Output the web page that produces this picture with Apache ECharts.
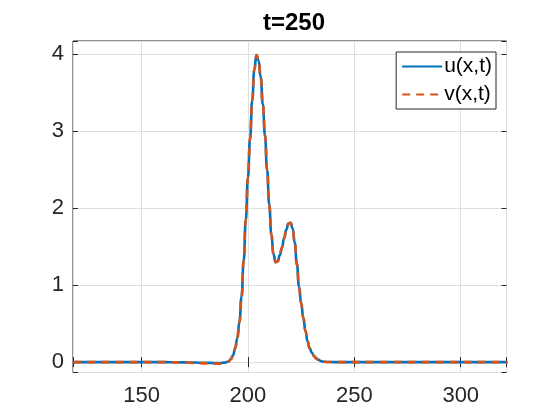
<!DOCTYPE html>
<html>
<head>
<meta charset="utf-8">
<script src="https://cdn.jsdelivr.net/npm/echarts@6/dist/echarts.min.js"></script>
<style>
html,body{margin:0;padding:0;background:#fff;}
#chart{width:560px;height:420px;}
</style>
</head>
<body>
<div id="chart"></div>
<script>
// x positions
const xValues = [118, 130, 140, 150, 160, 170, 175, 180, 184, 187, 189, 190, 191, 192, 193, 194, 195, 196, 197, 198, 199,
    200, 201, 202, 203, 204, 205, 206, 207, 208, 209, 210, 211, 212, 213, 214, 215, 216, 217, 218, 219, 220,
    221, 222, 223, 224, 225, 226, 227, 228, 229, 230, 231, 232, 233, 234, 235, 236, 238, 240, 250, 260, 280, 300, 322];
// u(x,t)
const uValues = [0, 0, 0, 0, 0, -0.004, -0.006, -0.009, -0.011, -0.011, -0.007, 0, 0.01, 0.04, 0.09, 0.18, 0.31, 0.52, 0.85, 1.32, 1.85,
    2.4, 2.9, 3.4, 3.8, 3.99, 3.92, 3.7, 3.35, 2.95, 2.5, 2.05, 1.66, 1.40, 1.30, 1.31, 1.39, 1.49, 1.61, 1.72, 1.80, 1.81,
    1.74, 1.55, 1.27, 0.98, 0.77, 0.58, 0.41, 0.27, 0.18, 0.125, 0.08, 0.05, 0.032, 0.018, 0.008, 0.004, 0.001, 0, 0, 0, 0, 0, 0];
// v(x,t)
const vValues = [0, 0, 0, 0, 0, -0.006, -0.01, -0.016, -0.02, -0.02, -0.012, 0, 0.01, 0.04, 0.09, 0.18, 0.31, 0.52, 0.85, 1.32, 1.85,
    2.4, 2.9, 3.4, 3.8, 3.99, 3.92, 3.7, 3.35, 2.95, 2.5, 2.05, 1.66, 1.40, 1.30, 1.31, 1.39, 1.49, 1.61, 1.72, 1.80, 1.81,
    1.74, 1.55, 1.27, 0.98, 0.77, 0.58, 0.41, 0.27, 0.18, 0.125, 0.08, 0.05, 0.032, 0.018, 0.008, 0.004, 0.001, 0, 0, 0, 0, 0, 0];
const seriesNames = ['u(x,t)', 'v(x,t)'];
const xTicks = [150, 200, 250, 300];
const yTicks = [0, 1, 2, 3, 4];

const axisColor = '#262626';
const font = 'Liberation Sans, Arial, sans-serif';

let chart = echarts.init(document.getElementById('chart'));

function pairs(ys) {
    return xValues.map((x, i) => [x, ys[i]]);
}

function xAxisOpt(pos, showLabel) {
    return {
        type: 'value', position: pos, min: 117.8, max: 321.5,
        minInterval: 50, maxInterval: 50,
        axisLine: {show: false},
        axisTick: {show: true, inside: true, length: 5, lineStyle: {color: axisColor}},
        axisLabel: {
            show: showLabel, color: axisColor, fontSize: 22, fontFamily: font, margin: 12,
            formatter: v => xTicks.indexOf(v) >= 0 ? String(v) : ''
        },
        splitLine: {show: showLabel, lineStyle: {color: '#dfdfdf', width: 1}}
    };
}

function yAxisOpt(pos, showLabel) {
    return {
        type: 'value', position: pos, min: -0.135, max: 4.173,
        minInterval: 1, maxInterval: 1,
        axisLine: {show: false},
        axisTick: {show: true, inside: true, length: 5, lineStyle: {color: axisColor}},
        axisLabel: {
            show: showLabel, color: axisColor, fontSize: 22, fontFamily: font, margin: 9,
            formatter: v => yTicks.indexOf(v) >= 0 ? String(v) : ''
        },
        splitLine: {show: showLabel, lineStyle: {color: '#dfdfdf', width: 1}}
    };
}

let option = {
    backgroundColor: '#fff',
    animation: false,
    title: {
        text: 't=250', left: 289, top: 6, textAlign: 'center',
        textStyle: {fontFamily: font, fontSize: 24, fontWeight: 'bold', color: '#000'}
    },
    grid: {
        left: 73, right: 53.5, top: 41, bottom: 47.5,
        show: true, borderColor: axisColor, borderWidth: 1, backgroundColor: '#fff'
    },
    legend: {
        data: seriesNames, orient: 'vertical', right: 64, top: 52,
        backgroundColor: '#fff', borderColor: axisColor, borderWidth: 1,
        padding: [4, 4, 4, 5], itemGap: 7, itemWidth: 40, itemHeight: 14,
        itemStyle: {opacity: 0},
        textStyle: {fontFamily: font, fontSize: 21, lineHeight: 20, color: '#000', padding: [0, 0, 0, -3]}
    },
    xAxis: [xAxisOpt('bottom', true), xAxisOpt('top', false)],
    yAxis: [yAxisOpt('left', true), yAxisOpt('right', false)],
    series: [{
        name: seriesNames[0], type: 'line', data: pairs(uValues),
        showSymbol: false, symbol: 'none', smooth: true, smoothMonotone: 'x',
        lineStyle: {color: '#0072BD', width: 2.6},
        itemStyle: {color: '#0072BD'}
    }, {
        name: seriesNames[1], type: 'line', data: pairs(vValues),
        showSymbol: false, symbol: 'none', smooth: true, smoothMonotone: 'x',
        lineStyle: {color: '#D95319', width: 2.6, type: [8, 6]},
        itemStyle: {color: '#D95319'}
    }]
};
chart.setOption(option, true);
</script>
</body>
</html>
